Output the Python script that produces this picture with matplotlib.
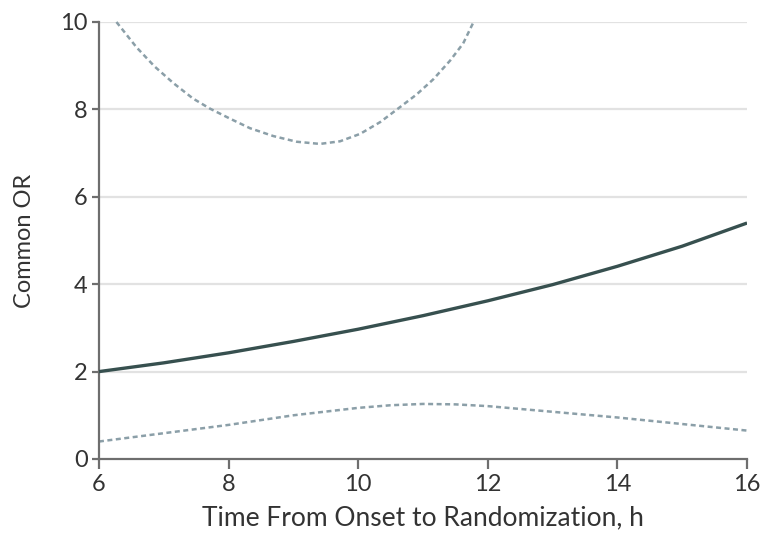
import matplotlib
matplotlib.use("Agg")
import matplotlib.pyplot as plt

# Common OR versus time from onset to randomization, with 95% CI bounds
hours = [6, 7, 8, 9, 10, 11, 12, 13, 14, 15, 16]
common_or = [2.00, 2.20, 2.43, 2.69, 2.97, 3.28, 3.62, 3.99, 4.41, 4.87, 5.40]

upper_hours = [6.27, 6.58, 6.86, 7.15, 7.45, 7.71, 8.02, 8.33, 8.69, 9.05, 9.41,
               9.72, 10.03, 10.34, 10.59, 10.90, 11.16, 11.42, 11.62, 11.78]
upper_ci = [10.0, 9.42, 8.98, 8.60, 8.25, 8.02, 7.79, 7.57, 7.39, 7.26, 7.21,
            7.27, 7.44, 7.71, 7.99, 8.34, 8.69, 9.12, 9.51, 10.0]

lower_hours = [6, 7, 8, 9, 10, 10.5, 11, 11.5, 12, 13, 14, 15, 16]
lower_ci = [0.40, 0.59, 0.78, 1.00, 1.17, 1.23, 1.26, 1.25, 1.21, 1.08, 0.95, 0.80, 0.65]

x_ticks = [6, 8, 10, 12, 14, 16]
y_ticks = [0, 2, 4, 6, 8, 10]

FONT = ["Lato", "DejaVu Sans"]
TEXT_COLOR = "#333333"
SPINE_COLOR = "#6e6e6e"
CI_COLOR = "#8b9fa8"

fig = plt.figure(figsize=(7.67, 5.43), dpi=100)
ax = fig.add_axes([0.129, 0.1547, 0.845, 0.8048])

for y in y_ticks[1:]:
    ax.axhline(y, color="#e2e2e2", lw=1.6, zorder=0)

ax.plot(hours, common_or, color="#37504f", lw=2.4, solid_capstyle="butt", zorder=3)
ax.plot(upper_hours, upper_ci, color=CI_COLOR, lw=1.8,
        linestyle=(0, (2.0, 1.4)), zorder=2, clip_on=False)
ax.plot(lower_hours, lower_ci, color=CI_COLOR, lw=1.8,
        linestyle=(0, (2.0, 1.4)), zorder=2)

ax.set_xlim(6, 16)
ax.set_ylim(0, 10)
ax.set_xticks(x_ticks)
ax.set_yticks(y_ticks)
ax.set_xticklabels([str(v) for v in x_ticks], family=FONT, fontsize=17, color=TEXT_COLOR)
ax.set_yticklabels([str(v) for v in y_ticks], family=FONT, fontsize=17, color=TEXT_COLOR)

for side in ("top", "right"):
    ax.spines[side].set_visible(False)
for side in ("left", "bottom"):
    ax.spines[side].set_color(SPINE_COLOR)
    ax.spines[side].set_linewidth(1.6)

ax.tick_params(axis="x", direction="out", length=7, width=1.6, color=SPINE_COLOR, pad=4)
ax.tick_params(axis="y", direction="out", length=5, width=1.6, color=SPINE_COLOR, pad=3)

ax.set_xlabel("Time From Onset to Randomization, h", family=FONT, fontsize=19,
              color=TEXT_COLOR, labelpad=7)
ax.set_ylabel("Common OR", family=FONT, fontsize=17, color=TEXT_COLOR, labelpad=18)

fig.savefig("out.png", dpi=100)
